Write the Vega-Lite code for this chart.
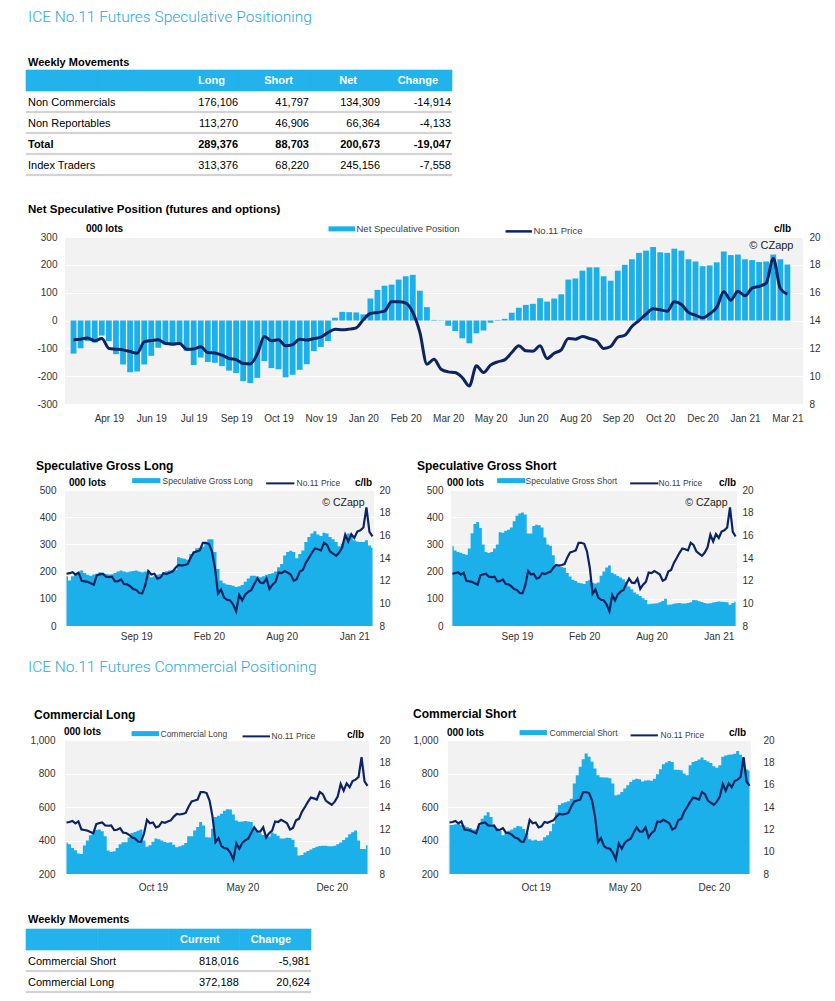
{
  "$schema": "https://vega.github.io/schema/vega-lite/v6.json",
  "padding": {"left": 25, "top": 10, "right": 5, "bottom": 5},
  "background": "#FFFFFF",
  "config": {
    "font": "Liberation Sans",
    "view": {"stroke": null},
    "axis": {"labelFont": "Liberation Sans", "labelFontSize": 10, "labelColor": "#333333", "domain": false, "ticks": false, "grid": false, "titleFont": "Liberation Sans", "titleColor": "#000000"},
    "legend": {"labelFont": "Liberation Sans", "labelColor": "#404040", "padding": 0},
    "title": {"font": "Liberation Sans", "color": "#000000", "anchor": "start", "frame": "group", "fontWeight": "bold"},
    "text": {"font": "Liberation Sans"},
    "locale": {"number": {"decimal": ".", "thousands": ",", "grouping": [3], "currency": ["$", ""], "minus": "-"}}
  },
  "datasets": {
    "w": [
      {"d":"2019-03-26","net":-119,"p":12.61,"gl":183,"gs":293,"cl":387,"cs":492},
      {"d":"2019-04-02","net":-100,"p":12.66,"gl":167,"gs":278,"cl":378,"cs":493},
      {"d":"2019-04-09","net":-74,"p":12.75,"gl":183,"gs":272,"cl":355,"cs":497},
      {"d":"2019-04-16","net":-79,"p":12.54,"gl":191,"gs":269,"cl":342,"cs":498},
      {"d":"2019-04-23","net":-54,"p":12.71,"gl":195,"gs":265,"cl":322,"cs":492},
      {"d":"2019-04-30","net":-74,"p":11.99,"gl":204,"gs":262,"cl":319,"cs":489},
      {"d":"2019-05-07","net":-121,"p":11.94,"gl":195,"gs":285,"cl":370,"cs":480},
      {"d":"2019-05-14","net":-158,"p":11.89,"gl":188,"gs":341,"cl":400,"cs":474},
      {"d":"2019-05-21","net":-186,"p":11.77,"gl":185,"gs":375,"cl":432,"cs":466},
      {"d":"2019-05-28","net":-183,"p":11.65,"gl":189,"gs":382,"cl":452,"cs":466},
      {"d":"2019-06-04","net":-158,"p":12.47,"gl":192,"gs":360,"cl":462,"cs":490},
      {"d":"2019-06-11","net":-127,"p":12.56,"gl":198,"gs":300,"cl":466,"cs":530},
      {"d":"2019-06-18","net":-98,"p":12.61,"gl":195,"gs":272,"cl":455,"cs":550},
      {"d":"2019-06-25","net":-86,"p":12.35,"gl":191,"gs":268,"cl":425,"cs":568},
      {"d":"2019-07-02","net":-91,"p":12.32,"gl":189,"gs":272,"cl":340,"cs":540},
      {"d":"2019-07-09","net":-88,"p":12.35,"gl":190,"gs":285,"cl":332,"cs":490},
      {"d":"2019-07-16","net":-109,"p":11.94,"gl":195,"gs":300,"cl":336,"cs":475},
      {"d":"2019-07-23","net":-160,"p":11.96,"gl":200,"gs":345,"cl":355,"cs":456},
      {"d":"2019-07-30","net":-133,"p":12.11,"gl":204,"gs":343,"cl":378,"cs":432},
      {"d":"2019-08-06","net":-149,"p":11.70,"gl":200,"gs":350,"cl":389,"cs":448},
      {"d":"2019-08-13","net":-152,"p":11.67,"gl":198,"gs":354,"cl":390,"cs":458},
      {"d":"2019-08-20","net":-164,"p":11.51,"gl":200,"gs":362,"cl":418,"cs":465},
      {"d":"2019-08-27","net":-180,"p":11.27,"gl":202,"gs":385,"cl":445,"cs":476},
      {"d":"2019-09-03","net":-189,"p":11.19,"gl":204,"gs":405,"cl":451,"cs":486},
      {"d":"2019-09-10","net":-218,"p":10.91,"gl":200,"gs":414,"cl":458,"cs":484},
      {"d":"2019-09-17","net":-225,"p":10.88,"gl":198,"gs":417,"cl":466,"cs":468},
      {"d":"2019-09-24","net":-206,"p":11.60,"gl":200,"gs":410,"cl":400,"cs":445},
      {"d":"2019-10-01","net":-146,"p":12.85,"gl":204,"gs":340,"cl":362,"cs":408},
      {"d":"2019-10-08","net":-171,"p":12.54,"gl":179,"gs":340,"cl":372,"cs":400},
      {"d":"2019-10-15","net":-175,"p":12.61,"gl":183,"gs":368,"cl":392,"cs":404},
      {"d":"2019-10-22","net":-204,"p":12.18,"gl":188,"gs":372,"cl":412,"cs":397},
      {"d":"2019-10-29","net":-195,"p":12.27,"gl":191,"gs":370,"cl":408,"cs":400},
      {"d":"2019-11-05","net":-177,"p":12.66,"gl":198,"gs":362,"cl":400,"cs":420},
      {"d":"2019-11-12","net":-157,"p":12.59,"gl":201,"gs":325,"cl":391,"cs":432},
      {"d":"2019-11-19","net":-110,"p":12.70,"gl":204,"gs":300,"cl":386,"cs":455},
      {"d":"2019-11-26","net":-95,"p":12.80,"gl":206,"gs":295,"cl":390,"cs":500},
      {"d":"2019-12-03","net":-74,"p":13.14,"gl":207,"gs":260,"cl":375,"cs":567},
      {"d":"2019-12-10","net":10,"p":13.38,"gl":253,"gs":222,"cl":360,"cs":612},
      {"d":"2019-12-17","net":31,"p":13.33,"gl":249,"gs":219,"cl":365,"cs":622},
      {"d":"2019-12-24","net":30,"p":13.38,"gl":247,"gs":217,"cl":372,"cs":628},
      {"d":"2019-12-31","net":29,"p":13.47,"gl":244,"gs":214,"cl":385,"cs":634},
      {"d":"2020-01-07","net":22,"p":14.05,"gl":265,"gs":195,"cl":425,"cs":650},
      {"d":"2020-01-14","net":79,"p":14.50,"gl":274,"gs":182,"cl":425,"cs":740},
      {"d":"2020-01-21","net":110,"p":14.58,"gl":286,"gs":170,"cl":460,"cs":790},
      {"d":"2020-01-28","net":125,"p":14.67,"gl":288,"gs":165,"cl":480,"cs":840},
      {"d":"2020-02-04","net":129,"p":15.34,"gl":291,"gs":159,"cl":510,"cs":885},
      {"d":"2020-02-11","net":147,"p":15.34,"gl":309,"gs":157,"cl":490,"cs":920},
      {"d":"2020-02-18","net":159,"p":15.25,"gl":319,"gs":154,"cl":420,"cs":900},
      {"d":"2020-02-25","net":164,"p":14.58,"gl":319,"gs":165,"cl":418,"cs":870},
      {"d":"2020-03-03","net":107,"p":13.14,"gl":272,"gs":170,"cl":470,"cs":830},
      {"d":"2020-03-10","net":48,"p":10.86,"gl":210,"gs":159,"cl":540,"cs":790},
      {"d":"2020-03-17","net":2,"p":11.22,"gl":167,"gs":156,"cl":548,"cs":778},
      {"d":"2020-03-24","net":-1,"p":10.50,"gl":157,"gs":160,"cl":560,"cs":776},
      {"d":"2020-03-31","net":-19,"p":10.31,"gl":153,"gs":185,"cl":578,"cs":776},
      {"d":"2020-04-07","net":-38,"p":10.26,"gl":151,"gs":200,"cl":587,"cs":772},
      {"d":"2020-04-14","net":-64,"p":9.90,"gl":148,"gs":215,"cl":585,"cs":740},
      {"d":"2020-04-21","net":-82,"p":9.30,"gl":143,"gs":222,"cl":555,"cs":670},
      {"d":"2020-04-28","net":-46,"p":10.74,"gl":146,"gs":196,"cl":520,"cs":675},
      {"d":"2020-05-05","net":-36,"p":10.26,"gl":151,"gs":190,"cl":512,"cs":690},
      {"d":"2020-05-12","net":-8,"p":10.79,"gl":163,"gs":184,"cl":514,"cs":710},
      {"d":"2020-05-19","net":2,"p":11.03,"gl":175,"gs":178,"cl":516,"cs":730},
      {"d":"2020-05-26","net":6,"p":11.17,"gl":185,"gs":172,"cl":514,"cs":750},
      {"d":"2020-06-02","net":28,"p":11.70,"gl":185,"gs":163,"cl":510,"cs":762},
      {"d":"2020-06-09","net":46,"p":12.18,"gl":183,"gs":145,"cl":470,"cs":768},
      {"d":"2020-06-16","net":56,"p":11.82,"gl":179,"gs":135,"cl":452,"cs":766},
      {"d":"2020-06-23","net":60,"p":11.79,"gl":183,"gs":123,"cl":443,"cs":752},
      {"d":"2020-06-30","net":80,"p":12.18,"gl":188,"gs":117,"cl":433,"cs":758},
      {"d":"2020-07-07","net":68,"p":11.27,"gl":191,"gs":110,"cl":427,"cs":760},
      {"d":"2020-07-14","net":79,"p":11.65,"gl":194,"gs":102,"cl":424,"cs":756},
      {"d":"2020-07-21","net":94,"p":11.89,"gl":200,"gs":96,"cl":448,"cs":768},
      {"d":"2020-07-28","net":147,"p":12.71,"gl":216,"gs":80,"cl":440,"cs":795},
      {"d":"2020-08-04","net":151,"p":12.66,"gl":228,"gs":82,"cl":428,"cs":825},
      {"d":"2020-08-11","net":179,"p":12.85,"gl":259,"gs":83,"cl":412,"cs":855},
      {"d":"2020-08-18","net":191,"p":12.71,"gl":272,"gs":84,"cl":412,"cs":866},
      {"d":"2020-08-25","net":191,"p":12.54,"gl":277,"gs":87,"cl":416,"cs":874},
      {"d":"2020-09-01","net":159,"p":11.99,"gl":272,"gs":92,"cl":415,"cs":868},
      {"d":"2020-09-08","net":143,"p":12.13,"gl":249,"gs":100,"cl":405,"cs":822},
      {"d":"2020-09-15","net":179,"p":12.80,"gl":265,"gs":78,"cl":360,"cs":823},
      {"d":"2020-09-22","net":200,"p":12.94,"gl":278,"gs":79,"cl":310,"cs":820},
      {"d":"2020-09-29","net":220,"p":13.57,"gl":309,"gs":82,"cl":313,"cs":800},
      {"d":"2020-10-06","net":243,"p":14.00,"gl":327,"gs":84,"cl":328,"cs":790},
      {"d":"2020-10-13","net":251,"p":14.46,"gl":340,"gs":85,"cl":337,"cs":850},
      {"d":"2020-10-20","net":264,"p":14.84,"gl":348,"gs":83,"cl":346,"cs":869},
      {"d":"2020-10-27","net":245,"p":14.77,"gl":336,"gs":83,"cl":355,"cs":875},
      {"d":"2020-11-03","net":243,"p":14.67,"gl":331,"gs":85,"cl":363,"cs":884},
      {"d":"2020-11-10","net":258,"p":15.34,"gl":343,"gs":87,"cl":367,"cs":895},
      {"d":"2020-11-17","net":251,"p":15.15,"gl":340,"gs":96,"cl":369,"cs":880},
      {"d":"2020-11-24","net":220,"p":14.58,"gl":327,"gs":95,"cl":369,"cs":872},
      {"d":"2020-12-01","net":212,"p":14.38,"gl":319,"gs":91,"cl":365,"cs":862},
      {"d":"2020-12-08","net":195,"p":14.19,"gl":309,"gs":88,"cl":365,"cs":843},
      {"d":"2020-12-15","net":198,"p":14.48,"gl":293,"gs":85,"cl":369,"cs":835},
      {"d":"2020-12-22","net":209,"p":14.94,"gl":302,"gs":83,"cl":377,"cs":849},
      {"d":"2020-12-29","net":248,"p":16.06,"gl":323,"gs":84,"cl":388,"cs":900},
      {"d":"2021-01-05","net":235,"p":15.46,"gl":340,"gs":86,"cl":403,"cs":908},
      {"d":"2021-01-12","net":237,"p":16.11,"gl":327,"gs":88,"cl":418,"cs":912},
      {"d":"2021-01-19","net":220,"p":15.77,"gl":315,"gs":90,"cl":438,"cs":914},
      {"d":"2021-01-26","net":217,"p":16.33,"gl":311,"gs":89,"cl":450,"cs":918},
      {"d":"2021-02-02","net":210,"p":16.45,"gl":309,"gs":88,"cl":460,"cs":935},
      {"d":"2021-02-09","net":212,"p":16.69,"gl":309,"gs":87,"cl":400,"cs":912},
      {"d":"2021-02-16","net":237,"p":18.46,"gl":315,"gs":78,"cl":350,"cs":890},
      {"d":"2021-02-23","net":220,"p":16.30,"gl":296,"gs":85,"cl":350,"cs":824},
      {"d":"2021-03-02","net":201,"p":15.90,"gl":288,"gs":89,"cl":372,"cs":818}
    ]
  },
  "spacing": 37,
  "resolve": {"scale": {"color": "independent"}, "legend": {"color": "independent"}},
  "vconcat": [
    {
      "spacing": 27,
      "resolve": {"scale": {"color": "independent"}, "legend": {"color": "independent"}},
      "vconcat": [
        {
          "width": 387,
          "height": 105,
          "title": {"text": "ICE No.11 Futures Speculative Positioning", "subtitle": "Weekly Movements", "font": "Roboto", "fontSize": 15.5, "fontWeight": 300, "color": "#2BA8E0", "subtitleFont": "Liberation Sans", "subtitleFontSize": 11, "subtitleFontWeight": "bold", "subtitleColor": "#000000", "subtitlePadding": 31, "dx": -37, "offset": 2},
          "data": {"values": [
            {"row":"hdr","col":"label"},{"row":"hdr","col":"gap"},{"row":"hdr","col":"Long"},{"row":"hdr","col":"Short"},{"row":"hdr","col":"Net"},{"row":"hdr","col":"Change"},
            {"row":"Non Commercials","col":"label"},{"row":"Non Commercials","col":"gap"},{"row":"Non Commercials","col":"Long","v":176106},{"row":"Non Commercials","col":"Short","v":41797},{"row":"Non Commercials","col":"Net","v":134309},{"row":"Non Commercials","col":"Change","v":-14914},
            {"row":"Non Reportables","col":"label"},{"row":"Non Reportables","col":"gap"},{"row":"Non Reportables","col":"Long","v":113270},{"row":"Non Reportables","col":"Short","v":46906},{"row":"Non Reportables","col":"Net","v":66364},{"row":"Non Reportables","col":"Change","v":-4133},
            {"row":"Total","col":"label"},{"row":"Total","col":"gap"},{"row":"Total","col":"Long","v":289376},{"row":"Total","col":"Short","v":88703},{"row":"Total","col":"Net","v":200673},{"row":"Total","col":"Change","v":-19047},
            {"row":"Index Traders","col":"label"},{"row":"Index Traders","col":"gap"},{"row":"Index Traders","col":"Long","v":313376},{"row":"Index Traders","col":"Short","v":68220},{"row":"Index Traders","col":"Net","v":245156},{"row":"Index Traders","col":"Change","v":-7558}
          ]},
          "encoding": {
            "x": {"field": "col", "type": "nominal", "scale": {"type": "band", "domain": ["label","gap","Long","Short","Net","Change"], "range": [-39, 387], "paddingInner": 0, "paddingOuter": 0}, "axis": null},
            "y": {"field": "row", "type": "nominal", "scale": {"type": "band", "domain": ["hdr","Non Commercials","Non Reportables","Total","Index Traders"], "paddingInner": 0, "paddingOuter": 0}, "axis": null}
          },
          "layer": [
            {"transform": [{"filter": "datum.row === 'hdr'"}], "mark": {"type": "rect", "color": "#22B2EC", "stroke": "#22B2EC", "strokeWidth": 0.6}},
            {"transform": [{"filter": "datum.row !== 'hdr'"}], "mark": {"type": "bar", "height": 1.5, "yOffset": 10.5, "color": "#C8C8C8", "stroke": "#C8C8C8", "strokeWidth": 0.3}},
            {"transform": [{"filter": "datum.row === 'hdr' && (datum.col === 'Long' || datum.col === 'Change')"}], "mark": {"type": "text", "align": "right", "baseline": "middle", "dx": -14, "dy": 0.5, "fontSize": 11, "fontWeight": "bold", "color": "#FFFFFF"}, "encoding": {"x": {"field": "col", "type": "nominal", "bandPosition": 1}, "text": {"field": "col"}}},
            {"transform": [{"filter": "datum.row === 'hdr' && datum.col === 'Short'"}], "mark": {"type": "text", "align": "right", "baseline": "middle", "dx": -17, "dy": 0.5, "fontSize": 11, "fontWeight": "bold", "color": "#FFFFFF"}, "encoding": {"x": {"field": "col", "type": "nominal", "bandPosition": 1}, "text": {"field": "col"}}},
            {"transform": [{"filter": "datum.row === 'hdr' && datum.col === 'Net'"}], "mark": {"type": "text", "align": "right", "baseline": "middle", "dx": -24, "dy": 0.5, "fontSize": 11, "fontWeight": "bold", "color": "#FFFFFF"}, "encoding": {"x": {"field": "col", "type": "nominal", "bandPosition": 1}, "text": {"field": "col"}}},
            {"transform": [{"filter": "datum.row !== 'hdr' && datum.row !== 'Total' && datum.col === 'label'"}], "mark": {"type": "text", "align": "left", "baseline": "middle", "dx": 2, "dy": 1.5, "fontSize": 11, "color": "#000000"}, "encoding": {"x": {"field": "col", "type": "nominal", "bandPosition": 0}, "text": {"field": "row"}}},
            {"transform": [{"filter": "datum.row === 'Total' && datum.col === 'label'"}], "mark": {"type": "text", "align": "left", "baseline": "middle", "dx": 2, "dy": 1.5, "fontSize": 11, "fontWeight": "bold", "color": "#000000"}, "encoding": {"x": {"field": "col", "type": "nominal", "bandPosition": 0}, "text": {"field": "row"}}},
            {"transform": [{"filter": "isValid(datum.v) && datum.row !== 'Total'"}], "mark": {"type": "text", "align": "right", "baseline": "middle", "dx": -1, "dy": 1.5, "fontSize": 11, "color": "#000000"}, "encoding": {"x": {"field": "col", "type": "nominal", "bandPosition": 1}, "text": {"field": "v", "type": "quantitative", "format": ","}}},
            {"transform": [{"filter": "isValid(datum.v) && datum.row === 'Total'"}], "mark": {"type": "text", "align": "right", "baseline": "middle", "dx": -1, "dy": 1.5, "fontSize": 11, "fontWeight": "bold", "color": "#000000"}, "encoding": {"x": {"field": "col", "type": "nominal", "bandPosition": 1}, "text": {"field": "v", "type": "quantitative", "format": ","}}}
          ]
        },
        {
          "width": 738,
          "height": 167,
          "view": {"fill": "#F2F2F2", "stroke": null},
          "title": {"text": "Net Speculative Position (futures and options)", "fontSize": 11.5, "dx": -37, "offset": 8},
          "data": {"name": "w"},
          "layer": [
            {
              "mark": {"type": "bar", "width": 5.8},
              "encoding": {
                "x": {"field": "d", "type": "temporal", "scale": {"type": "utc", "domain": [{"year":2019,"month":3,"date":22,"hours":12,"utc":true},{"year":2021,"month":3,"date":12,"hours":12,"utc":true}]},
                  "axis": {"values": [{"year":2019,"month":4,"date":30,"utc":true},{"year":2019,"month":6,"date":11,"utc":true},{"year":2019,"month":7,"date":23,"utc":true},{"year":2019,"month":9,"date":3,"utc":true},{"year":2019,"month":10,"date":15,"utc":true},{"year":2019,"month":11,"date":26,"utc":true},{"year":2020,"month":1,"date":7,"utc":true},{"year":2020,"month":2,"date":18,"utc":true},{"year":2020,"month":3,"date":31,"utc":true},{"year":2020,"month":5,"date":12,"utc":true},{"year":2020,"month":6,"date":23,"utc":true},{"year":2020,"month":8,"date":4,"utc":true},{"year":2020,"month":9,"date":15,"utc":true},{"year":2020,"month":10,"date":27,"utc":true},{"year":2020,"month":12,"date":8,"utc":true},{"year":2021,"month":1,"date":19,"utc":true},{"year":2021,"month":3,"date":2,"utc":true}], "format": "%b %y", "labelPadding": 9, "title": null}},
                "y": {"field": "net", "type": "quantitative", "scale": {"domain": [-300, 300], "nice": false},
                  "axis": {"values": [-300,-200,-100,0,100,200,300], "grid": true, "gridColor": "#FFFFFF", "gridWidth": 1.2, "labelPadding": 8, "title": "000 lots", "titleAngle": 0, "titleX": 39, "titleY": -9, "titleAlign": "center", "titleBaseline": "middle", "titleFontSize": 10, "titleFontWeight": "bold"}},
                "color": {"datum": "Net Speculative Position", "type": "nominal", "scale": {"domain": ["Net Speculative Position", "No.11 Price"], "range": ["#1CB0EB", "#0C2461"]},
                  "legend": {"orient": "none", "legendX": 272, "legendY": -13, "direction": "horizontal", "title": null, "symbolType": "stroke", "symbolSize": 700, "labelFontSize": 9.5, "labelOffset": 10, "columnPadding": 40, "encode": {"symbols": {"update": {"strokeWidth": {"signal": "datum.value === 'No.11 Price' ? 2.5 : 5"}}}}}}
              }
            },
            {
              "mark": {"type": "line", "strokeWidth": 3, "interpolate": "monotone", "strokeJoin": "round"},
              "encoding": {
                "x": {"field": "d", "type": "temporal", "axis": {"orient": "top", "labels": false, "ticks": false, "domain": false, "grid": false, "title": "© CZapp", "titleX": 728, "titleY": 8, "titleAlign": "right", "titleBaseline": "middle", "titleFontSize": 11, "titleFontWeight": "normal", "titleColor": "#222222"}},
                "y": {"field": "p", "type": "quantitative", "scale": {"domain": [8, 20], "nice": false},
                  "axis": {"orient": "right", "values": [8,10,12,14,16,18,20], "labelPadding": 6, "title": "c/lb", "titleAngle": 0, "titleX": -21, "titleY": -9, "titleAlign": "center", "titleBaseline": "middle", "titleFontSize": 10, "titleFontWeight": "bold"}},
                "color": {"datum": "No.11 Price", "type": "nominal"}
              }
            }
          ],
          "resolve": {"scale": {"y": "independent"}, "axis": {"x": "independent"}}
        }
      ]
    },
    {
      "spacing": 18,
      "resolve": {"scale": {"color": "independent"}, "legend": {"color": "independent"}},
      "vconcat": [
        {
          "hconcat": [
            {
              "width": 309,
              "height": 136,
              "view": {"fill": "#F2F2F2", "stroke": null},
              "title": {"text": "Speculative Gross Long", "fontSize": 12, "dx": -29, "offset": 3},
              "data": {"name": "w"},
              "layer": [
                {
                  "mark": {"type": "area", "interpolate": "step"},
                  "encoding": {
                    "x": {"field": "d", "type": "temporal", "scale": {"type": "utc", "domain": [{"year":2019,"month":3,"date":22,"hours":12,"utc":true},{"year":2021,"month":3,"date":5,"hours":12,"utc":true}]},
                      "axis": {"values": [{"year":2019,"month":9,"date":3,"utc":true},{"year":2020,"month":2,"date":18,"utc":true},{"year":2020,"month":8,"date":4,"utc":true},{"year":2021,"month":1,"date":19,"utc":true}], "format": "%b %y", "labelPadding": 5, "title": null}},
                    "y": {"field": "gl", "type": "quantitative", "scale": {"domain": [0, 500], "nice": false},
                      "axis": {"values": [0,100,200,300,400,500], "grid": true, "gridColor": "#FFFFFF", "gridWidth": 1.2, "labelPadding": 9, "title": "000 lots", "titleAngle": 0, "titleX": 22, "titleY": -8, "titleAlign": "center", "titleBaseline": "middle", "titleFontSize": 10, "titleFontWeight": "bold"}},
                    "color": {"datum": "Speculative Gross Long", "type": "nominal", "scale": {"domain": ["Speculative Gross Long", "No.11 Price"], "range": ["#1CB0EB", "#0C2461"]},
                      "legend": {"orient": "none", "legendX": 77, "legendY": -14, "direction": "horizontal", "title": null, "symbolType": "stroke", "symbolSize": 800, "labelFontSize": 8.5, "labelOffset": 12, "columnPadding": 9, "encode": {"symbols": {"update": {"strokeWidth": {"signal": "datum.value === 'No.11 Price' ? 2 : 5"}}}}}}
                  }
                },
                {
                  "mark": {"type": "line", "strokeWidth": 2.2},
                  "encoding": {
                    "x": {"field": "d", "type": "temporal", "axis": {"orient": "top", "labels": false, "ticks": false, "domain": false, "grid": false, "title": "© CZapp", "titleX": 299, "titleY": 12, "titleAlign": "right", "titleBaseline": "middle", "titleFontSize": 10.5, "titleFontWeight": "normal", "titleColor": "#222222"}},
                    "y": {"field": "p", "type": "quantitative", "scale": {"domain": [8, 20], "nice": false},
                      "axis": {"orient": "right", "values": [8,10,12,14,16,18,20], "labelPadding": 5, "title": "c/lb", "titleAngle": 0, "titleX": -11, "titleY": -8, "titleAlign": "center", "titleBaseline": "middle", "titleFontSize": 10, "titleFontWeight": "bold"}},
                    "color": {"datum": "No.11 Price", "type": "nominal"}
                  }
                }
              ],
              "resolve": {"scale": {"y": "independent"}, "axis": {"x": "independent"}}
            },
            {
              "width": 286,
              "height": 136,
              "view": {"fill": "#F2F2F2", "stroke": null},
              "title": {"text": "Speculative Gross Short", "fontSize": 12, "dx": -34, "offset": 3},
              "data": {"name": "w"},
              "layer": [
                {
                  "mark": {"type": "area", "interpolate": "step"},
                  "encoding": {
                    "x": {"field": "d", "type": "temporal", "scale": {"type": "utc", "domain": [{"year":2019,"month":3,"date":22,"hours":12,"utc":true},{"year":2021,"month":3,"date":5,"hours":12,"utc":true}]},
                      "axis": {"values": [{"year":2019,"month":9,"date":3,"utc":true},{"year":2020,"month":2,"date":18,"utc":true},{"year":2020,"month":8,"date":4,"utc":true},{"year":2021,"month":1,"date":19,"utc":true}], "format": "%b %y", "labelPadding": 5, "title": null}},
                    "y": {"field": "gs", "type": "quantitative", "scale": {"domain": [0, 500], "nice": false},
                      "axis": {"values": [0,100,200,300,400,500], "grid": true, "gridColor": "#FFFFFF", "gridWidth": 1.2, "labelPadding": 8, "title": "000 lots", "titleAngle": 0, "titleX": 14, "titleY": -8, "titleAlign": "center", "titleBaseline": "middle", "titleFontSize": 10, "titleFontWeight": "bold"}},
                    "color": {"datum": "Speculative Gross Short", "type": "nominal", "scale": {"domain": ["Speculative Gross Short", "No.11 Price"], "range": ["#1CB0EB", "#0C2461"]},
                      "legend": {"orient": "none", "legendX": 56, "legendY": -14, "direction": "horizontal", "title": null, "symbolType": "stroke", "symbolSize": 800, "labelFontSize": 8.5, "labelOffset": 10, "columnPadding": 8, "encode": {"symbols": {"update": {"strokeWidth": {"signal": "datum.value === 'No.11 Price' ? 2 : 5"}}}}}}
                  }
                },
                {
                  "mark": {"type": "line", "strokeWidth": 2.2},
                  "encoding": {
                    "x": {"field": "d", "type": "temporal", "axis": {"orient": "top", "labels": false, "ticks": false, "domain": false, "grid": false, "title": "© CZapp", "titleX": 276, "titleY": 12, "titleAlign": "right", "titleBaseline": "middle", "titleFontSize": 10.5, "titleFontWeight": "normal", "titleColor": "#222222"}},
                    "y": {"field": "p", "type": "quantitative", "scale": {"domain": [8, 20], "nice": false},
                      "axis": {"orient": "right", "values": [8,10,12,14,16,18,20], "labelPadding": 5, "title": "c/lb", "titleAngle": 0, "titleX": -10, "titleY": -8, "titleAlign": "center", "titleBaseline": "middle", "titleFontSize": 10, "titleFontWeight": "bold"}},
                    "color": {"datum": "No.11 Price", "type": "nominal"}
                  }
                }
              ],
              "resolve": {"scale": {"y": "independent"}, "axis": {"x": "independent"}}
            }
          ],
          "spacing": 77,
          "bounds": "flush",
          "resolve": {"scale": {"color": "independent"}, "legend": {"color": "independent"}}
        },
        {
          "spacing": 21,
          "resolve": {"scale": {"color": "independent"}, "legend": {"color": "independent"}},
          "vconcat": [
            {
              "title": {"text": "ICE No.11 Futures Commercial Positioning", "font": "Roboto", "fontSize": 15.5, "fontWeight": 300, "color": "#2BA8E0", "dx": -37, "offset": 33},
              "hconcat": [
                {
                  "width": 304,
                  "height": 134,
                  "view": {"fill": "#F2F2F2", "stroke": null},
                  "title": {"text": "Commercial Long", "fontSize": 12, "dx": -31, "offset": 4},
                  "data": {"name": "w"},
                  "layer": [
                    {
                      "mark": {"type": "area", "interpolate": "step", "clip": true},
                      "encoding": {
                        "x": {"field": "d", "type": "temporal", "scale": {"type": "utc", "domain": [{"year":2019,"month":3,"date":22,"hours":12,"utc":true},{"year":2021,"month":3,"date":5,"hours":12,"utc":true}]},
                          "axis": {"values": [{"year":2019,"month":10,"date":15,"utc":true},{"year":2020,"month":5,"date":12,"utc":true},{"year":2020,"month":12,"date":8,"utc":true}], "format": "%b %y", "labelPadding": 8, "title": null}},
                        "y": {"field": "cl", "type": "quantitative", "scale": {"domain": [200, 1000], "nice": false, "zero": false},
                          "axis": {"values": [200,400,600,800,1000], "format": ",d", "grid": true, "gridColor": "#FFFFFF", "gridWidth": 1.2, "labelPadding": 10, "title": "000 lots", "titleAngle": 0, "titleX": 17, "titleY": -9, "titleAlign": "center", "titleBaseline": "middle", "titleFontSize": 10, "titleFontWeight": "bold"}},
                        "color": {"datum": "Commercial Long", "type": "nominal", "scale": {"domain": ["Commercial Long", "No.11 Price"], "range": ["#1CB0EB", "#0C2461"]},
                          "legend": {"orient": "none", "legendX": 76, "legendY": -11, "direction": "horizontal", "title": null, "symbolType": "stroke", "symbolSize": 750, "labelFontSize": 8.5, "labelOffset": 11, "columnPadding": 10, "encode": {"symbols": {"update": {"strokeWidth": {"signal": "datum.value === 'No.11 Price' ? 2 : 5"}}}}}}
                      }
                    },
                    {
                      "mark": {"type": "line", "strokeWidth": 2.2},
                      "encoding": {
                        "x": {"field": "d", "type": "temporal", "axis": {"orient": "top", "labels": false, "ticks": false, "domain": false, "grid": false, "title": "© CZapp", "titleX": 292, "titleY": 125, "titleAlign": "right", "titleBaseline": "middle", "titleFontSize": 10.5, "titleFontWeight": "normal", "titleColor": "#222222"}},
                        "y": {"field": "p", "type": "quantitative", "scale": {"domain": [8, 20], "nice": false},
                          "axis": {"orient": "right", "values": [8,10,12,14,16,18,20], "labelPadding": 10, "title": "c/lb", "titleAngle": 0, "titleX": -14, "titleY": -6, "titleAlign": "center", "titleBaseline": "middle", "titleFontSize": 10, "titleFontWeight": "bold"}},
                        "color": {"datum": "No.11 Price", "type": "nominal"}
                      }
                    }
                  ],
                  "resolve": {"scale": {"y": "independent"}, "axis": {"x": "independent"}}
                },
                {
                  "width": 303,
                  "height": 134,
                  "view": {"fill": "#F2F2F2", "stroke": null},
                  "title": {"text": "Commercial Short", "fontSize": 12, "dx": -35, "offset": 6},
                  "data": {"name": "w"},
                  "layer": [
                    {
                      "mark": {"type": "area", "interpolate": "step", "clip": true},
                      "encoding": {
                        "x": {"field": "d", "type": "temporal", "scale": {"type": "utc", "domain": [{"year":2019,"month":3,"date":22,"hours":12,"utc":true},{"year":2021,"month":3,"date":5,"hours":12,"utc":true}]},
                          "axis": {"values": [{"year":2019,"month":10,"date":15,"utc":true},{"year":2020,"month":5,"date":12,"utc":true},{"year":2020,"month":12,"date":8,"utc":true}], "format": "%b %y", "labelPadding": 8, "title": null}},
                        "y": {"field": "cs", "type": "quantitative", "scale": {"domain": [200, 1000], "nice": false, "zero": false},
                          "axis": {"values": [200,400,600,800,1000], "format": ",d", "grid": true, "gridColor": "#FFFFFF", "gridWidth": 1.2, "labelPadding": 10, "title": "000 lots", "titleAngle": 0, "titleX": 17, "titleY": -8, "titleAlign": "center", "titleBaseline": "middle", "titleFontSize": 10, "titleFontWeight": "bold"}},
                        "color": {"datum": "Commercial Short", "type": "nominal", "scale": {"domain": ["Commercial Short", "No.11 Price"], "range": ["#1CB0EB", "#0C2461"]},
                          "legend": {"orient": "none", "legendX": 81, "legendY": -12, "direction": "horizontal", "title": null, "symbolType": "stroke", "symbolSize": 750, "labelFontSize": 8.5, "labelOffset": 12, "columnPadding": 8, "encode": {"symbols": {"update": {"strokeWidth": {"signal": "datum.value === 'No.11 Price' ? 2 : 5"}}}}}}
                      }
                    },
                    {
                      "mark": {"type": "line", "strokeWidth": 2.2},
                      "encoding": {
                        "x": {"field": "d", "type": "temporal", "axis": {"orient": "top", "labels": false, "ticks": false, "domain": false, "grid": false, "title": "© CZapp", "titleX": 296, "titleY": 126, "titleAlign": "right", "titleBaseline": "middle", "titleFontSize": 10.5, "titleFontWeight": "normal", "titleColor": "#222222"}},
                        "y": {"field": "p", "type": "quantitative", "scale": {"domain": [8, 20], "nice": false},
                          "axis": {"orient": "right", "values": [8,10,12,14,16,18,20], "labelPadding": 12, "title": "c/lb", "titleAngle": 0, "titleX": -14, "titleY": -8, "titleAlign": "center", "titleBaseline": "middle", "titleFontSize": 10, "titleFontWeight": "bold"}},
                        "color": {"datum": "No.11 Price", "type": "nominal"}
                      }
                    }
                  ],
                  "resolve": {"scale": {"y": "independent"}, "axis": {"x": "independent"}}
                }
              ],
              "spacing": 79,
              "bounds": "flush",
              "resolve": {"scale": {"color": "independent"}, "legend": {"color": "independent"}}
            },
            {
              "width": 246,
              "height": 63,
              "title": {"text": "Weekly Movements", "fontSize": 11, "dx": -37, "offset": 4},
              "data": {"values": [
                {"row":"hdr","col":"label"},{"row":"hdr","col":"gap"},{"row":"hdr","col":"Current"},{"row":"hdr","col":"Change"},
                {"row":"Commercial Short","col":"label"},{"row":"Commercial Short","col":"gap"},{"row":"Commercial Short","col":"Current","v":818016},{"row":"Commercial Short","col":"Change","v":-5981},
                {"row":"Commercial Long","col":"label"},{"row":"Commercial Long","col":"gap"},{"row":"Commercial Long","col":"Current","v":372188},{"row":"Commercial Long","col":"Change","v":20624}
              ]},
              "encoding": {
                "x": {"field": "col", "type": "nominal", "scale": {"type": "band", "domain": ["label","gap","Current","Change"], "range": [-39, 246], "paddingInner": 0, "paddingOuter": 0}, "axis": null},
                "y": {"field": "row", "type": "nominal", "scale": {"type": "band", "domain": ["hdr","Commercial Short","Commercial Long"], "paddingInner": 0, "paddingOuter": 0}, "axis": null}
              },
              "layer": [
                {"transform": [{"filter": "datum.row === 'hdr'"}], "mark": {"type": "rect", "color": "#22B2EC", "stroke": "#22B2EC", "strokeWidth": 0.6}},
                {"transform": [{"filter": "datum.row !== 'hdr'"}], "mark": {"type": "bar", "height": 1.5, "yOffset": 10.5, "color": "#C8C8C8", "stroke": "#C8C8C8", "strokeWidth": 0.3}},
                {"transform": [{"filter": "datum.row === 'hdr' && datum.col !== 'label' && datum.col !== 'gap'"}], "mark": {"type": "text", "align": "right", "baseline": "middle", "dx": -20, "dy": 0.5, "fontSize": 11, "fontWeight": "bold", "color": "#FFFFFF"}, "encoding": {"x": {"field": "col", "type": "nominal", "bandPosition": 1}, "text": {"field": "col"}}},
                {"transform": [{"filter": "datum.row !== 'hdr' && datum.col === 'label'"}], "mark": {"type": "text", "align": "left", "baseline": "middle", "dx": 2, "dy": 1.5, "fontSize": 11, "color": "#000000"}, "encoding": {"x": {"field": "col", "type": "nominal", "bandPosition": 0}, "text": {"field": "row"}}},
                {"transform": [{"filter": "isValid(datum.v)"}], "mark": {"type": "text", "align": "right", "baseline": "middle", "dx": -1, "dy": 1.5, "fontSize": 11, "color": "#000000"}, "encoding": {"x": {"field": "col", "type": "nominal", "bandPosition": 1}, "text": {"field": "v", "type": "quantitative", "format": ","}}}
              ]
            }
          ]
        }
      ]
    }
  ]
}
